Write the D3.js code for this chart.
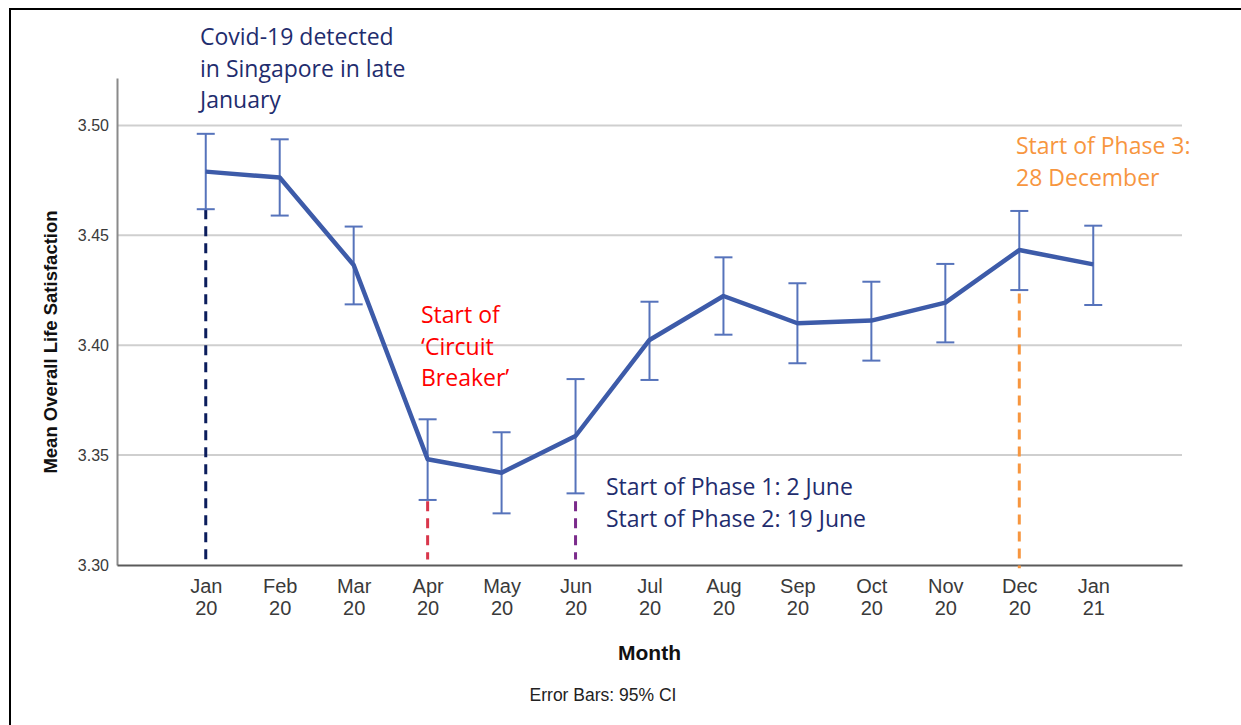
<!DOCTYPE html>
<html>
<head>
<meta charset="utf-8">
<script src="https://cdn.jsdelivr.net/npm/d3@7"></script>
<style>
  body { margin: 0; background: #fff; }
  svg { display: block; }
</style>
</head>
<body>
<div id="chart"></div>
<script>
// data
var monthNames = ["Jan", "Feb", "Mar", "Apr", "May", "Jun", "Jul", "Aug", "Sep", "Oct", "Nov", "Dec", "Jan"];
var yearLabels = ["20", "20", "20", "20", "20", "20", "20", "20", "20", "20", "20", "20", "21"];
var meanValues = [3.479, 3.4763, 3.4365, 3.3481, 3.342, 3.3587, 3.4024, 3.4224, 3.410, 3.4112, 3.4194, 3.4433, 3.4368];
var ciLower = [3.4619, 3.459, 3.4186, 3.3296, 3.3235, 3.3326, 3.3842, 3.4048, 3.3918, 3.393, 3.4013, 3.4251, 3.4183];
var ciUpper = [3.4962, 3.4937, 3.454, 3.3663, 3.3604, 3.3846, 3.4198, 3.44, 3.4282, 3.4289, 3.437, 3.4611, 3.4544];
var yTickValues = [3.30, 3.35, 3.40, 3.45, 3.50];

// event markers: month index, value range of dashed line
var markerMonths = [0, 3, 5, 11];
var markerFrom = [3.4619, 3.329, 3.329, 3.4235];
var markerTo = [3.30, 3.3025, 3.3025, 3.2985];
var markerColors = ["#0b1d5c", "#d9364b", "#7b2b8b", "#f7963f"];

// annotation texts
var covidNote = ["Covid-19 detected", "in Singapore in late", "January"];
var breakerNote = ["Start of", "\u2018Circuit", "Breaker\u2019"];
var phaseNote = ["Start of Phase 1: 2 June", "Start of Phase 2: 19 June"];
var phase3Note = ["Start of Phase 3:", "28 December"];

var svgWidth = 1241;
var svgHeight = 725;

var margin = { top: 78, right: 59, bottom: 160, left: 117 };
var width = svgWidth - margin.left - margin.right;
var height = svgHeight - margin.top - margin.bottom;

var svg = d3.select("#chart")
    .append("svg")
    .attr("width", svgWidth)
    .attr("height", svgHeight);

// outer frame (runs off the right and bottom of the picture)
svg.append("rect")
    .attr("x", 10)
    .attr("y", 9)
    .attr("width", 1260)
    .attr("height", 760)
    .attr("fill", "none")
    .attr("stroke", "#000")
    .attr("stroke-width", 2);

var chartGroup = svg.append("g")
    .attr("transform", `translate(${margin.left}, ${margin.top})`);

var idx = d3.range(meanValues.length);

var xScale = d3.scalePoint()
    .domain(idx)
    .range([0, width])
    .padding(1.2);

var yScale = d3.scaleLinear()
    .domain([3.30, 3.5216])
    .range([height, 0]);

// grid lines
chartGroup.append("g")
    .selectAll("line")
    .data(yTickValues.slice(1))
    .enter()
    .append("line")
    .attr("x1", 0)
    .attr("x2", width)
    .attr("y1", d => yScale(d))
    .attr("y2", d => yScale(d))
    .attr("stroke", "#cfcfcf")
    .attr("stroke-width", 2);

// y axis
var leftAxis = d3.axisLeft(yScale)
    .tickValues(yTickValues)
    .tickFormat(d3.format(".2f"))
    .tickSize(0)
    .tickPadding(8);

var yAxisG = chartGroup.append("g").call(leftAxis);
yAxisG.select(".domain").attr("stroke", "#8a8a8a").attr("stroke-width", 2);
yAxisG.selectAll("text")
    .attr("fill", "#3a3a3a")
    .style("font-family", "'Liberation Sans', Arial, sans-serif")
    .style("font-size", "16px");

// x axis
var bottomAxis = d3.axisBottom(xScale)
    .tickSize(0)
    .tickFormat("");

var xAxisG = chartGroup.append("g")
    .attr("transform", `translate(0, ${height})`)
    .call(bottomAxis);
xAxisG.select(".domain").attr("stroke", "#5a5a5a").attr("stroke-width", 2);

var tickText = xAxisG.selectAll(".tick")
    .append("text")
    .attr("fill", "#3a3a3a")
    .attr("text-anchor", "middle")
    .style("font-family", "'Liberation Sans', Arial, sans-serif")
    .style("font-size", "20px");
tickText.append("tspan")
    .attr("x", 0)
    .attr("y", 28)
    .text(d => monthNames[d]);
tickText.append("tspan")
    .attr("x", 0)
    .attr("y", 50)
    .text(d => yearLabels[d]);

// dashed event lines
chartGroup.append("g")
    .selectAll("line")
    .data(markerMonths)
    .enter()
    .append("line")
    .attr("x1", d => xScale(d))
    .attr("x2", d => xScale(d))
    .attr("y1", (d, i) => yScale(markerFrom[i]))
    .attr("y2", (d, i) => yScale(markerTo[i]))
    .attr("stroke", (d, i) => markerColors[i])
    .attr("stroke-width", 3)
    .attr("stroke-dasharray", "10,7");

// error bars
var errG = chartGroup.append("g")
    .attr("stroke", "#5673bb")
    .attr("stroke-width", 2)
    .selectAll("g")
    .data(idx)
    .enter()
    .append("g")
    .attr("transform", d => `translate(${xScale(d)}, 0)`);

errG.append("line")
    .attr("y1", d => yScale(ciLower[d]))
    .attr("y2", d => yScale(ciUpper[d]));
errG.append("line")
    .attr("x1", -9).attr("x2", 9)
    .attr("y1", d => yScale(ciUpper[d]))
    .attr("y2", d => yScale(ciUpper[d]));
errG.append("line")
    .attr("x1", -9).attr("x2", 9)
    .attr("y1", d => yScale(ciLower[d]))
    .attr("y2", d => yScale(ciLower[d]));

// mean line
var line = d3.line()
    .x(d => xScale(d))
    .y(d => yScale(meanValues[d]));

chartGroup.append("path")
    .datum(idx)
    .attr("d", line)
    .attr("fill", "none")
    .attr("stroke", "#3d5ba9")
    .attr("stroke-width", 4.5)
    .attr("stroke-linejoin", "round");

// axis titles
svg.append("text")
    .attr("transform", "translate(57, 342) rotate(-90)")
    .attr("text-anchor", "middle")
    .style("font-family", "'Liberation Sans', Arial, sans-serif")
    .style("font-size", "18.5px")
    .style("font-weight", "bold")
    .attr("fill", "#111")
    .text("Mean Overall Life Satisfaction");

svg.append("text")
    .attr("x", margin.left + width / 2)
    .attr("y", 660)
    .attr("text-anchor", "middle")
    .style("font-family", "'Liberation Sans', Arial, sans-serif")
    .style("font-size", "21px")
    .style("font-weight", "bold")
    .attr("fill", "#111")
    .text("Month");

svg.append("text")
    .attr("x", 603)
    .attr("y", 701)
    .attr("text-anchor", "middle")
    .style("font-family", "'Liberation Sans', Arial, sans-serif")
    .style("font-size", "17.5px")
    .attr("fill", "#222")
    .text("Error Bars: 95% CI");

// annotations
function addNote(lines, x, y, color) {
    var t = svg.append("text")
        .attr("x", x)
        .attr("y", y)
        .attr("fill", color)
        .style("font-family", "'Open Sans', sans-serif")
        .style("font-size", "23px");
    t.selectAll("tspan")
        .data(lines)
        .enter()
        .append("tspan")
        .attr("x", x)
        .attr("dy", (d, i) => i === 0 ? 0 : 31.6)
        .text(d => d);
}

addNote(covidNote, 200, 45, "#1f2d6e");
addNote(breakerNote, 421, 323, "#ff0000");
addNote(phaseNote, 606, 495, "#1f2d6e");
addNote(phase3Note, 1016, 154, "#f7963f");
</script>
</body>
</html>
